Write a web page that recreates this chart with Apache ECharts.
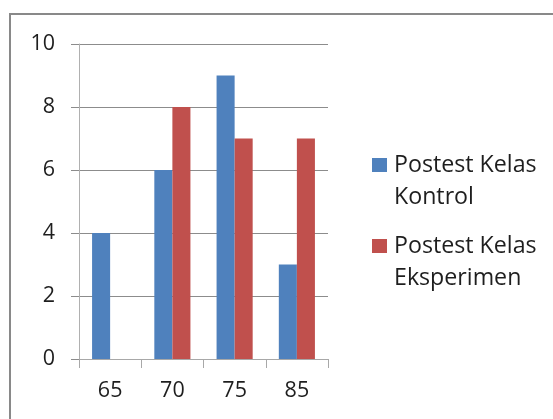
<!DOCTYPE html>
<html>
<head>
<meta charset="utf-8">
<script src="https://cdn.jsdelivr.net/npm/echarts@6/dist/echarts.min.js"></script>
<style>
html,body{margin:0;padding:0;background:#fff;}
#c{width:553px;height:419px;}
</style>
</head>
<body>
<div id="c"></div>
<script>
const categories = ['65', '70', '75', '85'];
const kontrolName = 'Postest Kelas Kontrol';
const eksperimenName = 'Postest Kelas Eksperimen';
const kontrolValues = [4, 6, 9, 3];
const eksperimenValues = [0, 8, 7, 7];
const yTicks = [0, 2, 4, 6, 8, 10];

const chart = echarts.init(document.getElementById('c'), null, {renderer: 'canvas'});
const font = 'Open Sans';
const textColor = '#1e1e1e';

function legendFmt(name) {
  const parts = name.split(' ');
  return '\n' + parts.slice(0, 2).join(' ') + '\n' + parts.slice(2).join(' ');
}

const legendCommon = {
  orient: 'vertical',
  left: 372,
  padding: 0,
  itemWidth: 15,
  itemHeight: 14,
  itemGap: 0,
  icon: 'rect',
  selectedMode: false,
  formatter: legendFmt,
  textStyle: {fontFamily: font, fontSize: 23.2, lineHeight: 32, color: textColor, padding: [0, 0, 0, 2]}
};

chart.setOption({
  animation: false,
  backgroundColor: '#fff',
  graphic: [{
    type: 'rect',
    shape: {x: 10, y: 14, width: 700, height: 600},
    style: {fill: 'none', stroke: '#898989', lineWidth: 2},
    silent: true
  }],
  legend: [
    Object.assign({}, legendCommon, {top: 117, data: [kontrolName]}),
    Object.assign({}, legendCommon, {top: 198, data: [eksperimenName]})
  ],
  grid: {left: 79, right: 225, top: 44, bottom: 60, containLabel: false},
  xAxis: {
    type: 'category',
    data: categories,
    axisLine: {lineStyle: {color: '#a8a8a8', width: 1}},
    axisTick: {show: true, length: 9, inside: false, lineStyle: {color: '#a8a8a8'}},
    axisLabel: {fontFamily: font, fontSize: 21.5, color: textColor, margin: 21}
  },
  yAxis: {
    type: 'value',
    min: yTicks[0],
    max: yTicks[yTicks.length - 1],
    interval: yTicks[1] - yTicks[0],
    axisLine: {show: true, lineStyle: {color: '#b0b0b0', width: 1}},
    axisTick: {show: true, length: 8, inside: false, lineStyle: {color: '#8c8c8c'}},
    splitLine: {show: true, lineStyle: {color: '#8c8c8c', width: 1}},
    axisLabel: {fontFamily: font, fontSize: 21.5, color: textColor, margin: 24}
  },
  series: [
    {
      name: kontrolName,
      type: 'bar',
      data: kontrolValues,
      itemStyle: {color: '#4F81BD'},
      barGap: '0%',
      barCategoryGap: '42%'
    },
    {
      name: eksperimenName,
      type: 'bar',
      data: eksperimenValues,
      itemStyle: {color: '#C0504D'},
      barGap: '0%',
      barCategoryGap: '42%'
    }
  ]
});
</script>
</body>
</html>
